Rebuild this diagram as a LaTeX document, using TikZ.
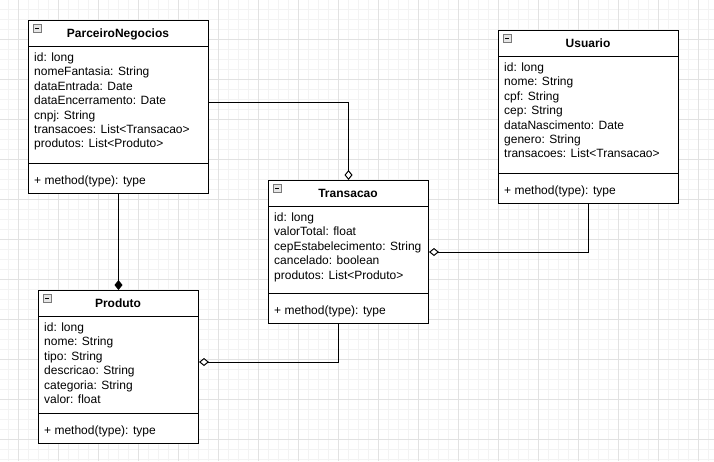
\documentclass[tikz,border=0pt]{standalone}
\usepackage{fontspec}
\setmainfont{Liberation Sans}
\usetikzlibrary{arrows.meta,calc}
\definecolor{gridmajor}{HTML}{E2E2E2}
\definecolor{gridminor}{HTML}{F3F3F3}
\definecolor{iconfill}{HTML}{E6E6E6}
\definecolor{iconline}{HTML}{7A7A7A}
\begin{document}
\begin{tikzpicture}[x=1pt,y=-1pt,
  gridminorline/.style={draw=gridminor,line width=1pt},
  gridmajorline/.style={draw=gridmajor,line width=1pt},
  classbox/.style={draw=black,line width=1pt,fill=white,rectangle,inner sep=0pt,anchor=north west},
  sepline/.style={draw=black,line width=1pt},
  attr/.style={anchor=base west,inner sep=0pt,font=\fontsize{12}{14.4}\selectfont},
  classtitle/.style={anchor=base,inner sep=0pt,font=\fontsize{12}{14.4}\selectfont\bfseries},
  conn/.style={draw=black,line width=1pt},
  filleddiamond/.style={-{Diamond[length=10pt,width=8pt,fill=black]}},
  opendiamond/.style={-{Diamond[length=10pt,width=8pt,fill=white]}},
  iconbox/.style={draw=iconline,fill=iconfill,line width=0.8pt},
  iconminus/.style={draw=black,line width=1pt}
]
\useasboundingbox (0,0) rectangle (714,461);
\fill[white] (0,0) rectangle (714,461);
% grid
\foreach \x in {8,18,...,708} \draw[gridminorline] (\x,0) -- (\x,461);
\foreach \y in {9,19,...,459} \draw[gridminorline] (0,\y) -- (714,\y);
\foreach \x in {18,58,...,698} \draw[gridmajorline] (\x,0) -- (\x,461);
\foreach \y in {39,79,...,439} \draw[gridmajorline] (0,\y) -- (714,\y);

% ---------- ParceiroNegocios ----------
\node[classbox,minimum width=180pt,minimum height=173pt] (pn) at (28,20) {};
\draw[sepline] (pn.north west) ++(0,26) -- ++(180,0);
\draw[sepline] (pn.north west) ++(0,143) -- ++(180,0);
\draw[iconbox] (33,24) rectangle (41,32);
\draw[iconminus] (35,28) -- (39,28);
\node[classtitle] (pn-t) at (118,37) {ParceiroNegocios};
\foreach \t [count=\i] in {id: long,nomeFantasia: String,dataEntrada: Date,dataEncerramento: Date,cnpj: String,transacoes: List<Transacao>,produtos: List<Produto>}
  \node[attr] (pn-a\i) at (34,{61.5+14.4*(\i-1)}) {\t};
\node[attr] (pn-m) at (34,184) {+ method(type): type};

% ---------- Usuario ----------
\node[classbox,minimum width=180pt,minimum height=173pt] (us) at (498,30) {};
\draw[sepline] (us.north west) ++(0,26) -- ++(180,0);
\draw[sepline] (us.north west) ++(0,143) -- ++(180,0);
\draw[iconbox] (503,34) rectangle (511,42);
\draw[iconminus] (505,38) -- (509,38);
\node[classtitle] (us-t) at (588,47) {Usuario};
\foreach \t [count=\i] in {id: long,nome: String,cpf: String,cep: String,dataNascimento: Date,genero: String,transacoes: List<Transacao>}
  \node[attr] (us-a\i) at (504,{71.5+14.4*(\i-1)}) {\t};
\node[attr] (us-m) at (504,194) {+ method(type): type};

% ---------- Transacao ----------
\node[classbox,minimum width=160pt,minimum height=143pt] (tr) at (268,180) {};
\draw[sepline] (tr.north west) ++(0,26) -- ++(160,0);
\draw[sepline] (tr.north west) ++(0,113) -- ++(160,0);
\draw[iconbox] (273,184) rectangle (281,192);
\draw[iconminus] (275,188) -- (279,188);
\node[classtitle] (tr-t) at (348,197) {Transacao};
\foreach \t [count=\i] in {id: long,valorTotal: float,cepEstabelecimento: String,cancelado: boolean,produtos: List<Produto>}
  \node[attr] (tr-a\i) at (274,{221.5+14.4*(\i-1)}) {\t};
\node[attr] (tr-m) at (274,314.5) {+ method(type): type};

% ---------- Produto ----------
\node[classbox,minimum width=160pt,minimum height=153pt] (pr) at (38,290) {};
\draw[sepline] (pr.north west) ++(0,26) -- ++(160,0);
\draw[sepline] (pr.north west) ++(0,123) -- ++(160,0);
\draw[iconbox] (43,294) rectangle (51,302);
\draw[iconminus] (45,298) -- (49,298);
\node[classtitle] (pr-t) at (118,307) {Produto};
\foreach \t [count=\i] in {id: long,nome: String,tipo: String,descricao: String,categoria: String,valor: float}
  \node[attr] (pr-a\i) at (44,{331.5+14.4*(\i-1)}) {\t};
\node[attr] (pr-m) at (44,434) {+ method(type): type};

% ---------- connectors ----------
\draw[conn,filleddiamond] (pn.south) -- (pr.north);
\draw[conn,opendiamond] (pn.north east) ++(0,82) -| (tr.north);
\draw[conn,opendiamond] (us.south) |- (tr.east);
\draw[conn,opendiamond] (tr.south) ++(-10,0) |- ($(pr.north east)+(0,72)$);
\end{tikzpicture}
\end{document}
